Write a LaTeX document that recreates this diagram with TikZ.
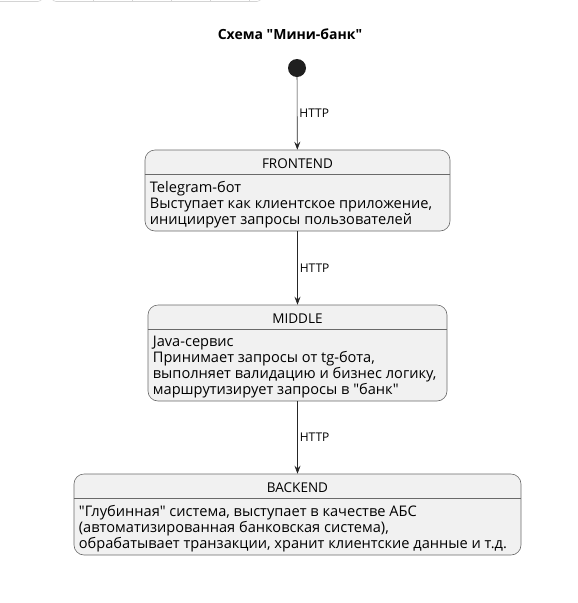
\documentclass[tikz,border=0pt]{standalone}
\usepackage{fontspec}
\setmainfont{Open Sans}
\usetikzlibrary{arrows.meta,positioning}

\definecolor{boxfill}{HTML}{F1F1F1}
\definecolor{boxline}{HTML}{6A6A6A}
\definecolor{tabline}{HTML}{D4D4D4}

\tikzset{
  statebox/.style={draw=boxline, fill=boxfill, rounded corners=10pt, line width=0.6pt, inner sep=0pt},
  statename/.style={font=\fontsize{13.5}{16}\selectfont, inner sep=0pt},
  statebody/.style={font=\fontsize{14.6}{16}\selectfont, align=left, anchor=north west, inner sep=0pt},
  flow/.style={-{Stealth[length=8pt,width=6pt,inset=3pt]}, line width=0.6pt, draw=black!85},
  proto/.style={font=\fontsize{12}{14}\selectfont, right, inner sep=2pt}
}

\begin{document}
\begin{tikzpicture}[x=1pt,y=-1pt]
\useasboundingbox (0,0) rectangle (578,603);

% Tabs at the top edge
\draw[tabline, line width=0.6pt] (0,1.5) -- (38,1.5) to[out=0,in=-90] (42,-2);
\draw[tabline, line width=0.6pt] (52,-2) to[out=-90,in=180] (56,1.5) -- (257,1.5) to[out=0,in=-90] (261,-2);
\foreach \xt in {93,132,171,210,249}
  \draw[tabline, line width=0.6pt] (\xt,-1) -- (\xt,1.5);

% Title
\node[font=\fontsize{14}{16}\selectfont\bfseries] (title) at (290,34) {Схема \textquotedbl Мини-банк\textquotedbl};

% Start
\node[circle, fill=black!88, minimum size=18pt, inner sep=0pt] (start) at (297,68) {};

% FRONTEND
\node[statebox, minimum width=305pt, minimum height=81pt] (front) at (297.5,190.5) {};
\node[statename] (frontname) at ([yshift=-13.5pt]front.north) {FRONTEND};
\draw[boxline, line width=0.6pt] ([yshift=-25pt]front.north west) -- ([yshift=-25pt]front.north east);
\node[statebody] (fronttext) at ([xshift=5pt,yshift=-31pt]front.north west)
{Telegram-бот\\Выступает как клиентское приложение,\\инициирует запросы пользователей};

% MIDDLE
\node[statebox, minimum width=299pt, minimum height=96pt] (middle) at (297.5,353) {};
\node[statename] (middlename) at ([yshift=-13.5pt]middle.north) {MIDDLE};
\draw[boxline, line width=0.6pt] ([yshift=-25pt]middle.north west) -- ([yshift=-25pt]middle.north east);
\node[statebody] (middletext) at ([xshift=5pt,yshift=-31pt]middle.north west)
{Java-сервис\\Принимает запросы от tg-бота,\\выполняет валидацию и бизнес логику,\\маршрутизирует запросы в \textquotedbl банк\textquotedbl};

% BACKEND
\node[statebox, minimum width=447pt, minimum height=81pt] (back) at (297.5,514.5) {};
\node[statename] (backname) at ([yshift=-13.5pt]back.north) {BACKEND};
\draw[boxline, line width=0.6pt] ([yshift=-25pt]back.north west) -- ([yshift=-25pt]back.north east);
\node[statebody] (backtext) at ([xshift=5pt,yshift=-31pt]back.north west)
{\textquotedbl Глубинная\textquotedbl{} система, выступает в качестве АБС\\(автоматизированная банковская система),\\обрабатывает транзакции, хранит клиентские данные и т.д.};

% Connectors
\draw[flow] (start) -- node[proto] {HTTP} (front);
\draw[flow] (front) -- node[proto] {HTTP} (middle);
\draw[flow] (middle) -- node[proto] {HTTP} (back);

\end{tikzpicture}
\end{document}
